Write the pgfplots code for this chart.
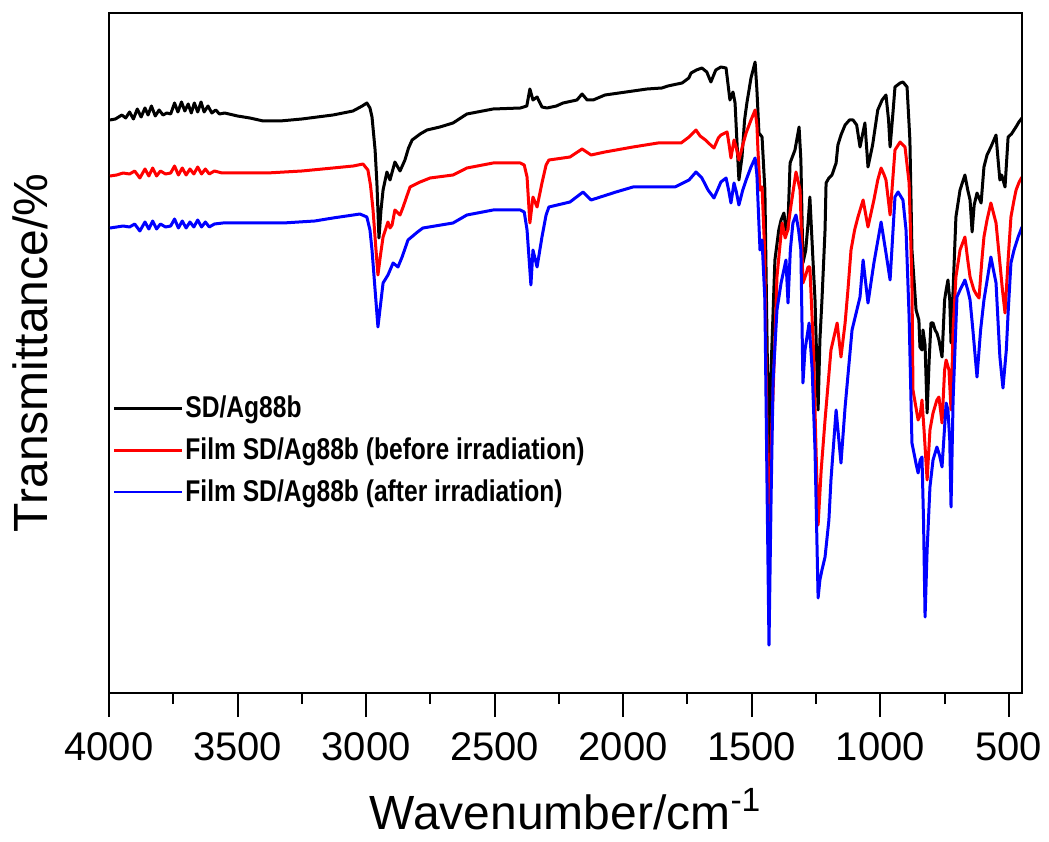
\documentclass[border=0pt]{standalone}
\usepackage{fontspec}
\setmainfont{Liberation Sans}
\newfontfamily\legfont{Liberation Sans}[FakeStretch=0.82]
\usepackage{pgfplots}
\pgfplotsset{compat=1.18}

\begin{document}
\begin{tikzpicture}
\useasboundingbox (-54.5pt,-74pt) rectangle (470pt,346.5pt);
\begin{axis}[
  at={(0,0)}, anchor=south west,
  scale only axis, width=456.5pt, height=340pt,
  x dir=reverse,
  xmin=449, xmax=4000, ymin=7, ymax=687,
  xtick={500,1000,...,4000}, minor x tick num=1,
  ytick=\empty,
  xtick pos=left, tick align=outside,
  major tick length=12pt, minor tick length=5.5pt,
  every tick/.style={black, line width=1pt},
  axis line style={line width=1.2pt},
  tick label style={font=\fontsize{20}{24}\selectfont},
  /pgf/number format/1000 sep={},
  /pgf/number format/assume math mode=true,
  xticklabel style={yshift=-4pt},
  xlabel={Wavenumber/cm\textsuperscript{-1}},
  ylabel={Transmittance/\%},
  label style={font=\fontsize{24}{28}\selectfont},
  xlabel style={yshift=-7pt},
  ylabel style={yshift=15pt},
  legend style={at={(0.004,0.44)}, anchor=north west, draw=none, fill=none,
    font=\legfont\bfseries\fontsize{15}{17}\selectfont, row sep=6.5pt,
    inner sep=0pt, nodes={inner sep=1pt}},
  legend cell align=left,
  legend image code/.code={\draw[#1, line width=1.2pt] (0pt,0pt) -- (34pt,0pt);},
  every axis plot/.append style={line width=1.5pt, line join=round},
]
\addplot[black] coordinates {
(3996,580) (3975,581) (3950,585) (3935,582) (3920,588) (3905,581) (3890,591) (3875,583) (3860,592) (3848,585) (3835,594) (3820,584) (3805,590) (3790,585) (3775,587) (3760,586) (3745,597) (3732,588) (3718,598) (3705,589) (3692,596) (3680,587) (3668,597) (3655,588) (3642,598) (3630,588) (3615,594) (3600,587) (3585,590) (3570,586) (3550,587) (3500,584) (3452,582) (3400,579) (3335,579) (3250,581) (3129,585) (3051,589) (3015,594) (2997,597) (2985,592) (2977,583) (2965,550) (2958,517) (2950,462) (2942,490) (2934,510) (2919,528) (2907,520) (2888,538) (2868,529) (2849,540) (2835,552) (2821,560) (2790,566) (2763,570) (2713,573) (2662,577) (2608,586) (2506,591) (2400,592) (2375,594) (2363,611) (2351,600) (2335,603) (2316,593) (2296,592) (2260,594) (2234,597) (2180,600) (2160,606) (2140,600) (2117,600) (2071,605) (1989,608) (1907,611) (1850,612) (1826,614) (1790,616) (1771,617) (1745,622) (1736,627) (1715,630) (1694,632) (1675,628) (1659,618) (1640,630) (1620,633) (1600,632) (1592,615) (1585,600) (1573,608) (1565,597) (1558,560) (1550,520) (1538,543) (1528,580) (1519,597) (1503,622) (1487,638) (1480,610) (1472,567) (1460,563) (1449,510) (1440,350) (1433,220) (1425,330) (1410,440) (1395,470) (1386,480) (1375,487) (1367,470) (1360,470) (1351,537) (1332,550) (1316,573) (1309,540) (1301,437) (1290,450) (1281,477) (1274,503) (1262,440) (1254,400) (1242,290) (1235,360) (1227,400) (1215,470) (1211,517) (1200,522) (1188,525) (1172,537) (1165,555) (1153,565) (1137,575) (1120,580) (1106,580) (1092,575) (1079,553) (1060,577) (1048,533) (1030,555) (1010,590) (993,600) (978,605) (968,580) (962,553) (950,590) (943,613) (923,617) (912,618) (896,613) (885,560) (877,450) (861,390) (850,380) (846,353) (838,350) (834,370) (826,355) (818,287) (810,340) (803,377) (795,377) (787,370) (780,367) (772,360) (760,343) (750,400) (744,410) (737,420) (730,400) (725,357) (717,410) (706,483) (690,510) (671,525) (660,510) (651,500) (643,468) (635,495) (624,507) (608,497) (597,533) (585,545) (570,553) (550,565) (542,540) (535,520) (528,525) (515,513) (503,563) (490,566) (480,570) (470,574) (461,578) (449,582)
};
\addplot[red] coordinates {
(3996,524) (3970,525) (3945,527) (3920,526) (3900,529) (3880,522) (3860,531) (3845,524) (3830,532) (3815,524) (3800,529) (3780,526) (3760,527) (3745,534) (3730,525) (3715,532) (3700,525) (3685,531) (3670,526) (3655,533) (3640,526) (3625,531) (3610,526) (3590,529) (3560,527) (3500,527) (3385,527) (3250,529) (3129,532) (3050,534) (3012,536) (2993,530) (2983,515) (2973,490) (2963,455) (2954,425) (2944,445) (2934,463) (2915,478) (2907,472) (2899,475) (2888,490) (2868,485) (2856,493) (2840,505) (2829,513) (2790,518) (2751,522) (2662,525) (2608,532) (2506,537) (2400,537) (2385,535) (2374,523) (2363,477) (2351,503) (2335,493) (2316,517) (2300,535) (2289,540) (2207,543) (2160,551) (2125,545) (2071,548) (1962,553) (1865,557) (1775,557) (1744,563) (1717,570) (1701,564) (1680,560) (1660,555) (1647,552) (1630,562) (1620,565) (1596,568) (1588,555) (1581,542) (1569,560) (1560,552) (1550,540) (1535,555) (1522,567) (1503,580) (1487,590) (1480,575) (1476,550) (1468,510) (1460,513) (1450,450) (1440,250) (1433,140) (1425,250) (1410,360) (1402,423) (1382,477) (1370,462) (1360,470) (1350,490) (1328,528) (1312,510) (1301,417) (1290,425) (1281,433) (1274,433) (1260,350) (1250,250) (1242,175) (1230,230) (1215,280) (1192,350) (1168,377) (1153,343) (1137,377) (1126,410) (1114,450) (1100,470) (1087,483) (1067,500) (1048,473) (1025,500) (1010,520) (997,532) (985,525) (978,520) (962,485) (943,550) (923,558) (904,553) (888,517) (877,417) (873,310) (853,280) (845,285) (838,300) (830,270) (818,220) (807,270) (795,287) (780,300) (772,303) (760,277) (750,330) (744,340) (733,330) (725,290) (717,370) (706,423) (690,450) (671,463) (660,440) (651,423) (636,410) (625,405) (616,402) (605,440) (597,463) (585,480) (570,497) (550,477) (535,437) (525,410) (515,387) (503,440) (492,483) (480,500) (472,510) (460,518) (449,523)
};
\addplot[blue] coordinates {
(3996,472) (3970,473) (3945,474) (3920,473) (3900,476) (3880,469) (3860,478) (3845,471) (3830,479) (3815,471) (3800,476) (3780,473) (3760,474) (3745,481) (3730,472) (3715,479) (3700,472) (3685,478) (3670,473) (3655,480) (3640,473) (3625,478) (3610,473) (3590,476) (3557,477) (3450,477) (3323,477) (3200,479) (3129,482) (3050,485) (3024,486) (2997,483) (2985,470) (2977,450) (2965,410) (2954,373) (2944,395) (2934,417) (2915,425) (2895,437) (2876,433) (2860,443) (2837,460) (2800,468) (2779,472) (2662,477) (2608,485) (2506,490) (2400,490) (2385,488) (2374,470) (2359,415) (2351,450) (2335,433) (2316,463) (2300,485) (2289,493) (2207,498) (2156,508) (2125,500) (2028,508) (1962,513) (1799,513) (1744,520) (1717,528) (1694,522) (1670,510) (1647,502) (1630,512) (1620,518) (1600,522) (1590,510) (1581,497) (1569,517) (1560,508) (1550,495) (1535,510) (1522,520) (1503,533) (1487,542) (1480,525) (1476,500) (1468,450) (1460,460) (1449,400) (1440,200) (1433,55) (1425,200) (1417,320) (1402,390) (1386,417) (1367,440) (1359,397) (1350,450) (1340,477) (1328,485) (1318,470) (1309,450) (1301,317) (1293,350) (1277,377) (1265,330) (1254,250) (1242,102) (1235,120) (1227,130) (1215,143) (1200,180) (1192,220) (1172,290) (1153,237) (1137,293) (1110,370) (1079,403) (1067,440) (1048,397) (1025,437) (997,478) (978,447) (962,420) (943,503) (931,508) (912,500) (900,470) (888,383) (877,257) (860,235) (853,227) (845,240) (838,243) (832,180) (826,83) (818,150) (807,213) (795,240) (780,253) (770,245) (760,233) (744,297) (737,290) (730,260) (725,193) (717,300) (702,403) (690,410) (671,420) (660,410) (651,400) (640,370) (624,323) (610,370) (597,400) (570,443) (550,417) (535,343) (523,312) (510,350) (503,387) (492,437) (480,450) (464,463) (449,473)
};
\legend{SD/Ag88b, Film SD/Ag88b (before irradiation), Film SD/Ag88b (after irradiation)}
\end{axis}
\draw[black, line width=1.4pt] (0pt,340pt) -- (456.5pt,340pt) -- (456.5pt,0pt);
\end{tikzpicture}
\end{document}
